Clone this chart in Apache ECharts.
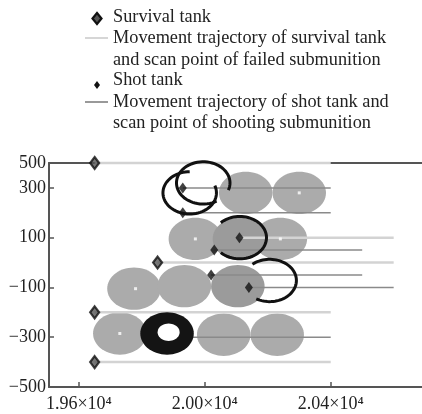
<!DOCTYPE html>
<html>
<head>
<meta charset="utf-8">
<script src="https://cdn.jsdelivr.net/npm/echarts@6/dist/echarts.min.js"></script>
<style>
  html, body { margin: 0; padding: 0; background: #fff; }
  #chart { width: 422px; height: 414px; }
</style>
</head>
<body>
<div id="chart"></div>
<script>
// 坐标轴刻度
const xTicks = [19600, 20000, 20400];
const yTicks = [-500, -300, -100, 100, 300, 400];
const scanRadius = 85;

// 坦克位置 [x, y]
const survivalTanks = [[19650, 400], [19650, -200], [19650, -400], [19850, 0]];
const shotTanks = [[19930, 300], [19930, 200], [20110, 100], [20030, 50], [20020, -50], [20140, -100]];

// 运动轨迹 [xStart, xEnd, y]
const survivalPaths = [[19650, 20400, 400], [19650, 20400, -200], [19650, 20400, -400], [19850, 20600, 0], [20110, 20600, 100]];
const shotPaths = [[19930, 20400, 300], [19930, 20400, 200], [20030, 20500, 50], [20020, 20500, -50], [20140, 20600, -100], [19880, 20400, -300]];

// 失效子弹扫描区域中心
const failedScans = [[20130, 280], [20300, 280], [19970, 95], [20240, 95], [19775, -105], [19935, -95], [19730, -285], [20060, -290], [20230, -290]];
const overlapScans = [[20110, 95], [20105, -95]];
const scanCenters = [[20300, 280], [19970, 95], [20240, 95], [19780, -105], [19730, -285]];

// 命中子弹扫描轨迹 [cx, cy, 起始角, 终止角]
const shootArcs = [[19995, 320, -20, 300], [19952, 280, 90, 380], [20111, 100, -135, 135], [20206, -72, -120, 130]];
const shootRings = [[19880, -285]];

const font = "'Liberation Serif', 'Times New Roman', serif";

function arcPoints(api, cx, cy, r, a0, a1, n) {
  const pts = [];
  for (let i = 0; i <= n; i++) {
    const a = (a0 + (a1 - a0) * i / n) * Math.PI / 180;
    pts.push(api.coord([cx + r * Math.cos(a), cy + r * Math.sin(a)]));
  }
  return pts;
}

function diskSeries(data, color) {
  return {
    type: 'custom',
    data: data,
    z: 1,
    silent: true,
    renderItem: function(params, api) {
      return {
        type: 'polygon',
        shape: { points: arcPoints(api, api.value(0), api.value(1), scanRadius, 0, 360, 60) },
        style: { fill: color }
      };
    }
  };
}

function pathSeries(data, color, width) {
  return {
    type: 'custom',
    data: data,
    encode: { x: [0, 1], y: 2 },
    z: 2,
    silent: true,
    renderItem: function(params, api) {
      const p0 = api.coord([api.value(0), api.value(2)]);
      const p1 = api.coord([api.value(1), api.value(2)]);
      return {
        type: 'line',
        shape: { x1: p0[0], y1: p0[1], x2: p1[0], y2: p1[1] },
        style: { stroke: color, lineWidth: width }
      };
    }
  };
}

const chart = echarts.init(document.getElementById('chart'));

const axisColor = '#555';

const option = {
  animation: false,
  grid: { left: 49, right: 0, top: 163, bottom: 27, containLabel: false, outerBoundsMode: 'none' },
  xAxis: [{
    type: 'value',
    min: 19505,
    max: 20690,
    axisLine: { show: true, onZero: false, lineStyle: { color: axisColor, width: 2 } },
    axisTick: { show: true, inside: true, length: 5, customValues: xTicks, lineStyle: { color: axisColor, width: 1.5 } },
    axisLabel: {
      customValues: xTicks,
      formatter: function(v) { return (v / 10000).toFixed(2) + '×10⁴'; },
      fontFamily: font, fontSize: 18, color: '#222', margin: 8
    },
    splitLine: { show: false }
  }, {
    type: 'value',
    position: 'top',
    min: 19505,
    max: 20690,
    axisLine: { show: true, onZero: false, lineStyle: { color: axisColor, width: 2 } },
    axisTick: { show: false },
    axisLabel: { show: false },
    splitLine: { show: false }
  }],
  yAxis: {
    type: 'value',
    min: -500,
    max: 400,
    axisLine: { show: true, onZero: false, lineStyle: { color: axisColor, width: 2 } },
    axisTick: { show: true, inside: true, length: 5, customValues: yTicks, lineStyle: { color: axisColor, width: 1.5 } },
    axisLabel: {
      customValues: yTicks,
      formatter: function(v) { return v === 400 ? '500' : String(v).replace('-', '−'); },
      fontFamily: font, fontSize: 18, color: '#222', margin: 3
    },
    splitLine: { show: false }
  },
  series: [
    diskSeries(failedScans, '#ababab'),
    diskSeries(overlapScans, '#9b9b9b'),
    pathSeries(survivalPaths, '#d3d3d3', 2.5),
    pathSeries(shotPaths, '#8a8a8a', 1.5),
    {
      type: 'custom',
      data: shootArcs,
      z: 3,
      silent: true,
      renderItem: function(params, api) {
        return {
          type: 'polyline',
          shape: { points: arcPoints(api, api.value(0), api.value(1), scanRadius, api.value(2), api.value(3), 60) },
          style: { stroke: '#111', lineWidth: 3, fill: null }
        };
      }
    },
    {
      type: 'custom',
      data: shootRings,
      z: 3,
      silent: true,
      renderItem: function(params, api) {
        const cx = api.value(0), cy = api.value(1);
        return {
          type: 'group',
          children: [
            { type: 'polygon', shape: { points: arcPoints(api, cx, cy, scanRadius, 0, 360, 60) }, style: { fill: '#141414' } },
            { type: 'polygon', shape: { points: arcPoints(api, cx + 5, cy + 5, 35, 0, 360, 40) }, style: { fill: '#fff' } }
          ]
        };
      }
    },
    {
      type: 'scatter',
      data: scanCenters,
      symbol: 'rect',
      symbolSize: 3,
      itemStyle: { color: '#fff' },
      z: 4,
      silent: true
    },
    {
      name: 'Survival tank',
      type: 'scatter',
      data: survivalTanks,
      symbol: 'diamond',
      symbolSize: [9, 12],
      itemStyle: { color: '#555', borderColor: '#111', borderWidth: 2.2 },
      z: 5,
      silent: true
    },
    {
      name: 'Shot tank',
      type: 'scatter',
      data: shotTanks,
      symbol: 'diamond',
      symbolSize: [8, 11],
      itemStyle: { color: '#111' },
      z: 5,
      silent: true
    }
  ],
  graphic: [
    { type: 'polygon', shape: { points: [[97, 13], [101.5, 18.5], [97, 24], [92.5, 18.5]] }, style: { fill: '#555', stroke: '#111', lineWidth: 2.2 } },
    { type: 'line', shape: { x1: 85, y1: 38, x2: 108, y2: 38 }, style: { stroke: '#c8c8c8', lineWidth: 1.5 } },
    { type: 'polygon', shape: { points: [[97, 81], [100, 85], [97, 89], [94, 85]] }, style: { fill: '#111' } },
    { type: 'line', shape: { x1: 85, y1: 102, x2: 108, y2: 102 }, style: { stroke: '#777', lineWidth: 1.5 } },
    { type: 'text', style: { text: 'Survival tank', x: 113, y: 17, font: '18.3px ' + font, fill: '#222', verticalAlign: 'middle' } },
    { type: 'text', style: { text: 'Movement trajectory of survival tank', x: 113, y: 38, font: '18.3px ' + font, fill: '#222', verticalAlign: 'middle' } },
    { type: 'text', style: { text: 'and scan point of failed submunition', x: 113, y: 60, font: '18.3px ' + font, fill: '#222', verticalAlign: 'middle' } },
    { type: 'text', style: { text: 'Shot tank', x: 113, y: 80, font: '18.3px ' + font, fill: '#222', verticalAlign: 'middle' } },
    { type: 'text', style: { text: 'Movement trajectory of shot tank and', x: 113, y: 102, font: '18.3px ' + font, fill: '#222', verticalAlign: 'middle' } },
    { type: 'text', style: { text: 'scan point of shooting submunition', x: 113, y: 123, font: '18.3px ' + font, fill: '#222', verticalAlign: 'middle' } }
  ]
};

chart.setOption(option);
</script>
</body>
</html>
